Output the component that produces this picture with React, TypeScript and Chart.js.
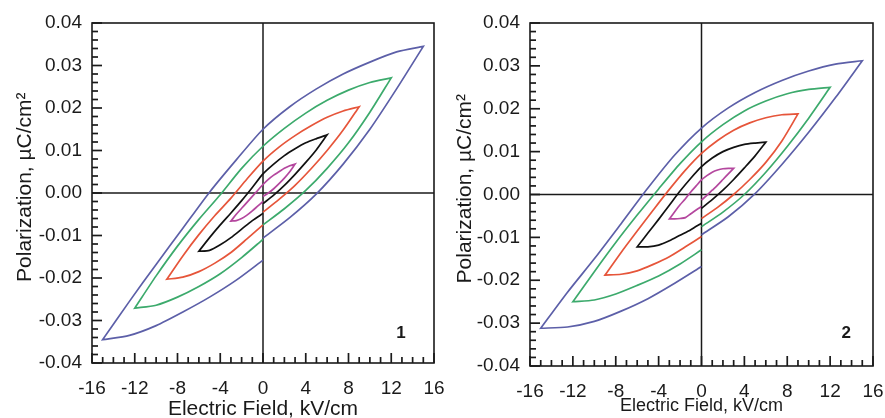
import React, { useEffect, useRef } from "react";
import { Chart, registerables } from "chart.js";

Chart.register(...registerables);

const X_MIN = -16;
const X_MAX = 16;
const X_STEP = 4;
const X_MINOR = 1;
const Y_MIN = -0.04;
const Y_MAX = 0.04;
const Y_STEP = 0.01;
const Y_MINOR = 0.002;
const X_TITLE = "Electric Field, kV/cm";
const Y_TITLE = "Polarization, \u00b5C/cm\u00b2";
const PANEL_LABELS = ["1", "2"];

const G15 = [-15, -12.5, -10, -7.5, -5, -2.5, 0, 2.5, 5, 7.5, 10, 12.5, 15];
const G12 = [-12, -10, -8, -6, -4, -2, 0, 2, 4, 6, 8, 10, 12];
const G9 = [-9, -7.5, -6, -4.5, -3, -1.5, 0, 1.5, 3, 4.5, 6, 7.5, 9];
const G6 = [-6, -5, -4, -3, -2, -1, 0, 1, 2, 3, 4, 5, 6];
const G3 = [-3, -2.5, -2, -1.5, -1, -0.5, 0, 0.5, 1, 1.5, 2, 2.5, 3];

const p1BlueUp = [-0.0345, -0.0255, -0.0168, -0.0083, 0.0002, 0.0078, 0.015, 0.0203, 0.0245, 0.028, 0.0308, 0.0332, 0.0345];
const p1BlueLL = [-0.0345, -0.0335, -0.0312, -0.028, -0.0245, -0.0205, -0.0158];
const p1BlueLR = [-0.0106, -0.0058, -0.0002, 0.0068, 0.015, 0.0245, 0.0345];

const p1GreenUp = [-0.0271, -0.0195, -0.0125, -0.0062, -0.0004, 0.0058, 0.011, 0.0152, 0.0188, 0.0218, 0.0242, 0.026, 0.0271];
const p1GreenLL = [-0.0271, -0.0264, -0.0245, -0.022, -0.019, -0.0152, -0.0109];
const p1GreenLR = [-0.0075, -0.0037, 0.0006, 0.0058, 0.0118, 0.019, 0.0271];

const p1RedUp = [-0.0203, -0.0148, -0.0098, -0.0053, -0.0012, 0.0033, 0.0075, 0.0108, 0.0135, 0.0158, 0.0178, 0.0193, 0.0203];
const p1RedLL = [-0.0203, -0.0198, -0.0185, -0.0165, -0.014, -0.0108, -0.0075];
const p1RedLR = [-0.0045, -0.0015, 0.0018, 0.0057, 0.01, 0.0148, 0.0203];

const p1BlackUp = [-0.0137, -0.0105, -0.0075, -0.0047, -0.0018, 0.0013, 0.0045, 0.0068, 0.0088, 0.0104, 0.0118, 0.0128, 0.0137];
const p1BlackLL = [-0.0137, -0.0135, -0.0122, -0.0105, -0.0085, -0.0065, -0.0048];
const p1BlackLR = [-0.0025, -0.0005, 0.0018, 0.0044, 0.0072, 0.0102, 0.0137];

const p1MagUp = [-0.0066, -0.005, -0.0036, -0.0022, -0.0008, 0.0006, 0.002, 0.0032, 0.0042, 0.005, 0.0058, 0.0064, 0.0068];
const p1MagLL = [-0.0066, -0.0065, -0.006, -0.0052, -0.0042, -0.0031, -0.002];
const p1MagLR = [-0.0008, 0.0, 0.001, 0.0022, 0.0035, 0.005, 0.0068];

const p2BlueUp = [-0.0312, -0.0228, -0.015, -0.0068, 0.0015, 0.0092, 0.0155, 0.0202, 0.0238, 0.0266, 0.0288, 0.0304, 0.0312];
const p2BlueLL = [-0.0312, -0.0309, -0.0296, -0.0272, -0.0243, -0.0207, -0.0168];
const p2BlueLR = [-0.0094, -0.0052, 0.0002, 0.007, 0.0145, 0.0226, 0.0312];

const p2GreenUp = [-0.025, -0.018, -0.0112, -0.0048, 0.0013, 0.0072, 0.0123, 0.0163, 0.0195, 0.0218, 0.0235, 0.0245, 0.025];
const p2GreenLL = [-0.025, -0.0246, -0.0232, -0.0212, -0.019, -0.0162, -0.0129];
const p2GreenLR = [-0.0075, -0.0041, 0.0, 0.0052, 0.0112, 0.0178, 0.025];

const p2RedUp = [-0.0188, -0.0135, -0.0085, -0.0036, 0.0012, 0.0057, 0.0096, 0.0126, 0.015, 0.0167, 0.0179, 0.0186, 0.0188];
const p2RedLL = [-0.0188, -0.0186, -0.0178, -0.0163, -0.0145, -0.0122, -0.0098];
const p2RedLR = [-0.0056, -0.003, 0.0, 0.0035, 0.0075, 0.0125, 0.0188];

const p2BlackUp = [-0.0122, -0.009, -0.0058, -0.0025, 0.0008, 0.0038, 0.0065, 0.0085, 0.01, 0.011, 0.0117, 0.012, 0.0122];
const p2BlackLL = [-0.0122, -0.0122, -0.0118, -0.0108, -0.0095, -0.0082, -0.0067];
const p2BlackLR = [-0.0032, -0.0012, 0.001, 0.0035, 0.0062, 0.009, 0.0122];

const p2MagUp = [-0.0057, -0.004, -0.0024, -0.001, 0.0006, 0.002, 0.0034, 0.0044, 0.0052, 0.0057, 0.006, 0.0061, 0.0061];
const p2MagLL = [-0.0057, -0.0057, -0.0056, -0.0054, -0.0045, -0.0036, -0.0028];
const p2MagLR = [-0.0013, -0.0002, 0.001, 0.0022, 0.0035, 0.0048, 0.0061];

const COLORS = { blue: "#5c5fa8", green: "#3caa6c", red: "#e6553a", black: "#111111", magenta: "#b4479e" };

type Pt = { x: number; y: number };

function loopPoints(grid: number[], up: number[], ll: number[], lr: number[]): Pt[] {
  const pts: Pt[] = [];
  for (let i = 0; i < lr.length; i++) pts.push({ x: grid[6 + i], y: lr[i] });
  for (let i = up.length - 1; i >= 0; i--) pts.push({ x: grid[i], y: up[i] });
  for (let i = 0; i < ll.length; i++) pts.push({ x: grid[i], y: ll[i] });
  return pts;
}

function makeDatasets(loops: { g: number[]; up: number[]; ll: number[]; lr: number[]; c: string }[]) {
  return loops.map((l, i) => ({
    label: "loop" + i,
    data: loopPoints(l.g, l.up, l.ll, l.lr),
    borderColor: l.c,
    backgroundColor: l.c,
    showLine: true,
    fill: false,
    borderWidth: 1.7,
    pointRadius: 0,
    tension: 0.25,
  }));
}

const panel1Loops = [
  { g: G15, up: p1BlueUp, ll: p1BlueLL, lr: p1BlueLR, c: COLORS.blue },
  { g: G12, up: p1GreenUp, ll: p1GreenLL, lr: p1GreenLR, c: COLORS.green },
  { g: G9, up: p1RedUp, ll: p1RedLL, lr: p1RedLR, c: COLORS.red },
  { g: G6, up: p1BlackUp, ll: p1BlackLL, lr: p1BlackLR, c: COLORS.black },
  { g: G3, up: p1MagUp, ll: p1MagLL, lr: p1MagLR, c: COLORS.magenta },
];
const panel2Loops = [
  { g: G15, up: p2BlueUp, ll: p2BlueLL, lr: p2BlueLR, c: COLORS.blue },
  { g: G12, up: p2GreenUp, ll: p2GreenLL, lr: p2GreenLR, c: COLORS.green },
  { g: G9, up: p2RedUp, ll: p2RedLL, lr: p2RedLR, c: COLORS.red },
  { g: G6, up: p2BlackUp, ll: p2BlackLL, lr: p2BlackLR, c: COLORS.black },
  { g: G3, up: p2MagUp, ll: p2MagLL, lr: p2MagLR, c: COLORS.magenta },
];

const FONT = "'Liberation Sans', Arial, Helvetica, sans-serif";
const INK = "#1a1a1a";

function seg(ctx: CanvasRenderingContext2D, x1: number, y1: number, x2: number, y2: number) {
  ctx.beginPath();
  ctx.moveTo(x1, y1);
  ctx.lineTo(x2, y2);
  ctx.stroke();
}

function framePlugin(label: string, labelAt: Pt) {
  return {
    id: "frame" + label,
    beforeDatasetsDraw(chart: any) {
      const { ctx, chartArea: a, scales } = chart;
      const x0 = scales.x.getPixelForValue(0);
      const y0 = scales.y.getPixelForValue(0);
      ctx.save();
      ctx.strokeStyle = INK;
      ctx.lineWidth = 1.5;
      seg(ctx, x0, a.top, x0, a.bottom);
      seg(ctx, a.left, y0, a.right, y0);
      ctx.restore();
    },
    afterDraw(chart: any) {
      const ctx: CanvasRenderingContext2D = chart.ctx;
      const a = chart.chartArea;
      const xs = chart.scales.x;
      const ys = chart.scales.y;
      ctx.save();
      ctx.strokeStyle = INK;
      ctx.lineWidth = 1.6;
      ctx.strokeRect(a.left, a.top, a.right - a.left, a.bottom - a.top);
      ctx.lineWidth = 1.7;
      const nx = Math.round((X_MAX - X_MIN) / X_MINOR);
      for (let i = 0; i <= nx; i++) {
        const v = X_MIN + i * X_MINOR;
        const px = xs.getPixelForValue(v);
        const len = i % Math.round(X_STEP / X_MINOR) === 0 ? 10 : 6;
        seg(ctx, px, a.bottom, px, a.bottom - len);
      }
      const ny = Math.round((Y_MAX - Y_MIN) / Y_MINOR);
      for (let i = 0; i <= ny; i++) {
        const v = Y_MIN + i * Y_MINOR;
        const py = ys.getPixelForValue(v);
        const len = i % Math.round(Y_STEP / Y_MINOR) === 0 ? 10 : 6;
        seg(ctx, a.left, py, a.left + len, py);
      }
      ctx.fillStyle = INK;
      ctx.font = "bold 17px " + FONT;
      ctx.textAlign = "center";
      ctx.textBaseline = "middle";
      ctx.fillText(label, xs.getPixelForValue(labelAt.x), ys.getPixelForValue(labelAt.y));
      ctx.restore();
    },
  };
}

type PanelProps = {
  left: number;
  width: number;
  loops: typeof panel1Loops;
  label: string;
  labelAt: Pt;
  yWidth: number;
  xHeight: number;
  padRight: number;
  xTitleSize: number;
  xTitlePadBottom: number;
};

function Panel(p: PanelProps) {
  const ref = useRef<HTMLCanvasElement>(null);
  useEffect(() => {
    if (!ref.current) return;
    const chart = new Chart(ref.current, {
      type: "scatter",
      data: { datasets: makeDatasets(p.loops) as any },
      options: {
        animation: false,
        responsive: false,
        devicePixelRatio: 1,
        layout: { padding: { left: 0, right: p.padRight, top: 23, bottom: 0 } },
        plugins: { legend: { display: false }, tooltip: { enabled: false } },
        scales: {
          x: {
            type: "linear",
            min: X_MIN,
            max: X_MAX,
            grid: { display: false, drawTicks: false },
            border: { display: false },
            ticks: {
              stepSize: X_STEP,
              padding: 14,
              color: INK,
              font: { size: 19, family: FONT },
              maxRotation: 0,
              autoSkip: false,
            },
            title: {
              display: true,
              text: X_TITLE,
              color: INK,
              font: { size: p.xTitleSize, family: FONT },
              padding: { top: 0, bottom: p.xTitlePadBottom },
            },
            afterFit: (s: any) => {
              s.height = p.xHeight;
              s.paddingLeft = 0;
              s.paddingRight = 0;
            },
          },
          y: {
            type: "linear",
            min: Y_MIN,
            max: Y_MAX,
            grid: { display: false, drawTicks: false },
            border: { display: false },
            ticks: {
              stepSize: Y_STEP,
              padding: 10,
              color: INK,
              font: { size: 19, family: FONT },
              callback: (v: any) => (Math.abs(Number(v)) < 1e-9 ? "0.00" : Number(v).toFixed(2)),
            },
            title: {
              display: true,
              text: "  " + Y_TITLE,
              color: INK,
              font: { size: 21, family: FONT },
              padding: { top: 13, bottom: 0 },
            },
            afterFit: (s: any) => {
              s.width = p.yWidth;
              s.paddingTop = 0;
              s.paddingBottom = 0;
            },
          },
        },
      },
      plugins: [framePlugin(p.label, p.labelAt) as any],
    });
    return () => chart.destroy();
  }, []);
  return (
    <canvas
      ref={ref}
      width={p.width}
      height={418}
      style={{ position: "absolute", left: p.left, top: 0, width: p.width, height: 418 }}
    />
  );
}

export default function App() {
  return (
    <div style={{ position: "absolute", left: 0, top: 0, width: 885, height: 418, background: "#fff" }}>
      <Panel
        left={0}
        width={445}
        loops={panel1Loops}
        label={PANEL_LABELS[0]}
        labelAt={{ x: 12.9, y: -0.033 }}
        yWidth={92}
        xHeight={55}
        padRight={11}
        xTitleSize={21}
        xTitlePadBottom={-4}
      />
      <Panel
        left={440}
        width={445}
        loops={panel2Loops}
        label={PANEL_LABELS[1]}
        labelAt={{ x: 13.5, y: -0.0323 }}
        yWidth={90}
        xHeight={52}
        padRight={12}
        xTitleSize={18}
        xTitlePadBottom={1}
      />
    </div>
  );
}
